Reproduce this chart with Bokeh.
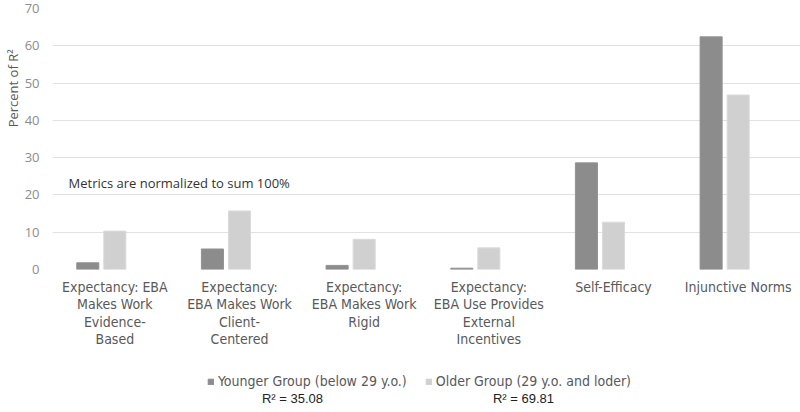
from bokeh.plotting import figure
from bokeh.layouts import column
from bokeh.models import (FactorRange, Range1d, Label, Legend, LegendItem,
                          ColumnDataSource, FixedTicker)
from bokeh.transform import dodge
from bokeh.embed import file_html
from bokeh.resources import INLINE

categories = [
    "Expectancy: EBA\nMakes Work\nEvidence-\nBased",
    "Expectancy:\nEBA Makes Work\nClient-\nCentered",
    "Expectancy:\nEBA Makes Work\nRigid",
    "Expectancy:\nEBA Use Provides\nExternal\nIncentives",
    "Self-Efficacy",
    "Injunctive Norms",
]
younger = [1.8, 5.5, 1.1, 0.35, 28.6, 62.4]
older = [10.3, 15.7, 8.1, 5.8, 12.7, 46.8]
series_names = ["Younger Group (below 29 y.o.)", "Older Group (29 y.o. and loder)"]
r2_texts = ["R\u00b2 = 35.08", "R\u00b2 = 69.81"]
y_ticks = [0, 10, 20, 30, 40, 50, 60, 70]

DARK = "#8c8c8c"
LIGHT = "#d0d0d0"
NARROW = "'Liberation Sans Narrow', 'DejaVu Sans Condensed', sans-serif"

src = ColumnDataSource(dict(cat=categories, young=younger, old=older))

p = figure(width=800, height=362, x_range=FactorRange(*categories),
           y_range=Range1d(0, 70), output_backend="svg", toolbar_location=None,
           min_border_left=52, min_border_right=0, min_border_top=8,
           min_border_bottom=93)
p.outline_line_color = None

r1 = p.vbar(x=dodge("cat", -0.217, range=p.x_range), top="young", width=0.177,
            source=src, fill_color=DARK, line_color="#939393")
r2 = p.vbar(x=dodge("cat", 0.0, range=p.x_range), top="old", width=0.177,
            source=src, fill_color=LIGHT, line_color="#dadada")

p.xgrid.grid_line_color = None
p.ygrid.grid_line_color = "#e2e2e2"
p.ygrid.grid_line_width = 1
p.yaxis.ticker = FixedTicker(ticks=y_ticks)

p.yaxis.axis_line_color = None
p.yaxis.major_tick_line_color = None
p.yaxis.minor_tick_line_color = None
p.yaxis.major_tick_out = 0
p.yaxis.minor_tick_out = 0
p.yaxis.major_label_standoff = 13
p.yaxis.major_label_text_font = "Open Sans"
p.yaxis.major_label_text_font_size = "13px"
p.yaxis.major_label_text_color = "#8c8c8c"
# leading no-break spaces lift the title toward the upper part, as in the source
p.yaxis.axis_label = "\u00a0" * 30 + "Percent of R\u00b2"
p.yaxis.axis_label_standoff = 0
p.yaxis.axis_label_text_font = "Open Sans"
p.yaxis.axis_label_text_font_size = "13px"
p.yaxis.axis_label_text_font_style = "normal"
p.yaxis.axis_label_text_color = "#595959"

p.xaxis.axis_line_color = None
p.xaxis.major_tick_line_color = None
p.xaxis.major_tick_out = 0
p.xaxis.minor_tick_out = 0
p.xaxis.major_label_standoff = 9
p.xaxis.major_label_text_font = NARROW
p.xaxis.major_label_text_font_size = "14px"
p.xaxis.major_label_text_color = "#595959"
p.xaxis.major_label_text_line_height = 1.1

p.add_layout(Label(x=16, y=87, x_units="screen", y_units="screen",
                   text="Metrics are normalized to sum 100%",
                   text_align="left", text_baseline="middle",
                   text_font="Open Sans", text_font_size="13px",
                   text_color="#333333"))

# bottom strip: legend and R^2 notes (its frame is aligned with the chart's frame)
p2 = figure(width=800, height=50, x_range=Range1d(52, 800), y_range=Range1d(100, 150),
            output_backend="svg", toolbar_location=None,
            x_axis_location=None, y_axis_location=None,
            min_border_left=52, min_border_right=0, min_border_top=0,
            min_border_bottom=0)
p2.grid.visible = False
p2.outline_line_color = None

# legend proxies: their bars fall below this strip's visible y-range,
# so only the legend swatches are drawn
d1 = p2.vbar(x="old", top="young", width=1, source=src,
             fill_color=DARK, line_color=DARK)
d2 = p2.vbar(x="old", top="old", width=1, source=src,
             fill_color=LIGHT, line_color=LIGHT)

legend = Legend(items=[LegendItem(label=series_names[0], renderers=[d1]),
                       LegendItem(label=series_names[1], renderers=[d2])],
                location=(155, 23), orientation="horizontal",
                glyph_width=7, glyph_height=7, label_standoff=4, spacing=18,
                padding=0, margin=0, border_line_color=None,
                background_fill_alpha=0,
                label_text_font=NARROW, label_text_font_size="14px",
                label_text_color="#595959")
p2.add_layout(legend, "center")

for xc, t in zip([292, 523], r2_texts):
    p2.add_layout(Label(x=xc, y=114, text=t, text_align="center",
                        text_baseline="middle",
                        text_font="Liberation Sans", text_font_size="13px",
                        text_color="#222222"))

layout = column(p, p2, spacing=0)
open("out.html", "w").write(file_html(layout, INLINE))
